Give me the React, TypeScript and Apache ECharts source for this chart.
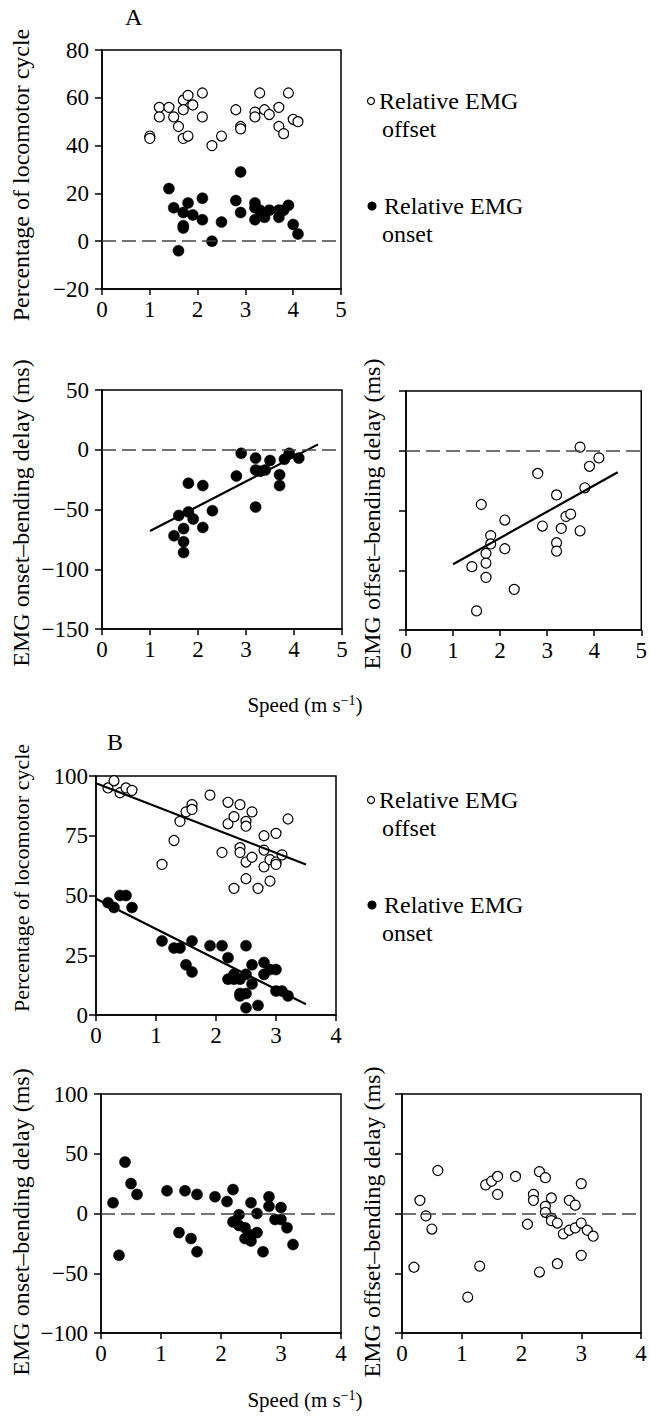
import React, { useEffect, useRef } from 'react';
import * as echarts from 'echarts';

const FONT = '"Liberation Serif", "Times New Roman", serif';

// ---------- Data ----------
// Panel A, top: percentage of locomotor cycle
const aOffsetPct: [number, number][] = [
  [1.0, 44], [1.0, 43], [1.2, 56], [1.2, 52], [1.4, 56], [1.5, 52], [1.6, 48], [1.7, 59], [1.7, 55], [1.7, 43],
  [1.8, 61], [1.8, 44], [1.9, 57], [2.1, 62], [2.1, 52], [2.3, 40], [2.5, 44], [2.8, 55], [2.9, 48], [2.9, 47],
  [3.2, 54], [3.2, 52], [3.3, 62], [3.4, 55], [3.5, 53], [3.7, 56], [3.7, 48], [3.8, 45], [3.9, 62], [4.0, 51], [4.1, 50],
];
const aOnsetPct: [number, number][] = [
  [1.4, 22], [1.5, 14], [1.6, -4], [1.7, 12], [1.7, 6.5], [1.7, 5.5], [1.8, 16], [1.9, 11], [2.1, 18], [2.1, 9],
  [2.3, 0], [2.5, 8], [2.8, 17], [2.9, 29], [2.9, 12], [3.2, 16], [3.2, 14], [3.2, 9], [3.3, 13], [3.4, 10],
  [3.5, 13], [3.7, 13], [3.7, 10], [3.8, 13], [3.9, 15], [4.0, 7], [4.1, 3],
];
// Panel A, middle: delays (ms)
const aOnsetDelay: [number, number][] = [
  [1.5, -72], [1.6, -55], [1.7, -66], [1.7, -77], [1.7, -86], [1.8, -28], [1.8, -52], [1.9, -58], [2.1, -30], [2.1, -65],
  [2.3, -51], [2.8, -22], [2.9, -3], [3.2, -7], [3.2, -17], [3.2, -48], [3.3, -18], [3.4, -17], [3.5, -9], [3.7, -21],
  [3.7, -30], [3.8, -8], [3.9, -3], [4.1, -7],
];
const aOnsetFit: [number, number][] = [[1, -68], [4.5, 4.5]];
const aOffsetDelay: [number, number][] = [
  [1.4, -97], [1.5, -134], [1.6, -45], [1.7, -86], [1.7, -94], [1.7, -106], [1.8, -71], [1.8, -78], [2.1, -58], [2.1, -82],
  [2.3, -116], [2.8, -19], [2.9, -63], [3.2, -37], [3.2, -77], [3.2, -84], [3.3, -65], [3.4, -55], [3.5, -53], [3.7, -67],
  [3.7, 3], [3.8, -31], [3.9, -13], [4.1, -6],
];
const aOffsetFit: [number, number][] = [[1, -95], [4.5, -18]];

// Panel B, top: percentage of locomotor cycle
const bOffsetPct: [number, number][] = [
  [0.2, 95], [0.3, 98], [0.4, 93], [0.5, 95], [0.6, 94], [1.1, 63], [1.3, 73], [1.4, 81], [1.5, 85], [1.6, 88],
  [1.6, 86], [1.9, 92], [2.1, 68], [2.2, 89], [2.2, 80], [2.3, 83], [2.3, 53], [2.4, 88], [2.4, 70], [2.4, 68],
  [2.5, 81], [2.5, 79], [2.5, 64], [2.5, 57], [2.6, 85], [2.6, 66], [2.7, 53], [2.8, 75], [2.8, 69], [2.8, 62],
  [2.9, 65], [2.9, 56], [3.0, 76], [3.0, 64], [3.0, 63], [3.1, 67], [3.2, 82],
];
const bOffsetFit: [number, number][] = [[0, 97], [3.5, 63]];
const bOnsetPct: [number, number][] = [
  [0.2, 47], [0.3, 45], [0.4, 50], [0.5, 50], [0.6, 45], [1.1, 31], [1.3, 28], [1.4, 28], [1.5, 21], [1.6, 31],
  [1.6, 18], [1.9, 29], [2.1, 29], [2.2, 24], [2.2, 15], [2.3, 17], [2.3, 15], [2.4, 15], [2.4, 9], [2.4, 8],
  [2.5, 29], [2.5, 17], [2.5, 9], [2.5, 3], [2.6, 21], [2.6, 13], [2.7, 4], [2.8, 22], [2.8, 17], [2.9, 19],
  [3.0, 19], [3.0, 10], [3.1, 10], [3.2, 8],
];
const bOnsetFit: [number, number][] = [[0, 48.6], [3.5, 4.5]];
// Panel B, bottom: delays (ms)
const bOnsetDelay: [number, number][] = [
  [0.2, 9], [0.3, -35], [0.4, 43], [0.5, 25], [0.6, 16], [1.1, 19], [1.3, -16], [1.4, 19], [1.5, -21], [1.6, 16],
  [1.6, -32], [1.9, 14], [2.1, 10], [2.2, 20], [2.2, -7], [2.3, -1], [2.3, -10], [2.4, -12], [2.4, -21], [2.5, 9],
  [2.5, -18], [2.5, -23], [2.6, 0], [2.6, -16], [2.7, -32], [2.8, 14], [2.8, 6], [2.9, -5], [3.0, 5], [3.0, -5],
  [3.1, -12], [3.2, -26],
];
const bOffsetDelay: [number, number][] = [
  [0.2, -45], [0.3, 11], [0.4, -2], [0.5, -13], [0.6, 36], [1.1, -70], [1.3, -44], [1.4, 24], [1.5, 27], [1.6, 31],
  [1.6, 16], [1.9, 31], [2.1, -9], [2.2, 16], [2.2, 11], [2.3, 35], [2.3, -49], [2.4, 30], [2.4, 6], [2.4, 1],
  [2.5, 13], [2.5, -4], [2.5, -6], [2.6, -8], [2.6, -42], [2.7, -17], [2.8, 11], [2.8, -14], [2.9, 7], [2.9, -12],
  [3.0, 25], [3.0, -8], [3.0, -35], [3.1, -14], [3.2, -19],
];

// Axis ranges [min, max, interval]
const speedRangeA = [0, 5, 1];
const speedRangeB = [0, 4, 1];
const pctRangeA = [-20, 80, 20];
const delayRangeA = [-150, 50, 50];
const pctRangeB = [0, 100, 25];
const delayRangeB = [-100, 100, 50];

// Texts
const pctTitle = 'Percentage of locomotor cycle';
const onsetDelayTitle = 'EMG onset–bending delay (ms)';
const offsetDelayTitle = 'EMG offset–bending delay (ms)';
const legendOffset = ['Relative EMG', 'offset'];
const legendOnset = ['Relative EMG', 'onset'];

// ---------- Layout ----------
const grids = [
  { left: 102, top: 50, width: 239, height: 239 },
  { left: 102, top: 390, width: 240, height: 239 },
  { left: 406, top: 391, width: 239, height: 239 },
  { left: 96, top: 776, width: 240, height: 239 },
  { left: 101, top: 1094, width: 240, height: 239 },
  { left: 402, top: 1094, width: 239, height: 239 },
];

const TICK_FS = 23;
const TITLE_FS = 24;
const LEGEND_FS = 24;

const fmt = (v: number) => (v < 0 ? '\u2212' + Math.abs(v) : String(v));

function xAxisFor(gi: number, r: number[]) {
  return {
    type: 'value', gridIndex: gi, min: r[0], max: r[1], interval: r[2],
    axisLine: { onZero: false, lineStyle: { color: '#000', width: 1.5 } },
    axisTick: { show: true, inside: false, length: 6, lineStyle: { color: '#000', width: 1.5 } },
    axisLabel: { show: true, color: '#000', fontFamily: FONT, fontSize: TICK_FS, margin: 9, formatter: fmt },
    splitLine: { show: false },
  };
}
function yAxisFor(gi: number, r: number[], showLabel: boolean, margin: number) {
  return {
    type: 'value', gridIndex: gi, min: r[0], max: r[1], interval: r[2],
    axisLine: { onZero: false, lineStyle: { color: '#000', width: 1.5 } },
    axisTick: { show: true, inside: false, length: 7, lineStyle: { color: '#000', width: 1.5 } },
    axisLabel: { show: showLabel, color: '#000', fontFamily: FONT, fontSize: TICK_FS, margin, formatter: fmt },
    splitLine: { show: false },
  };
}

const zeroLine = {
  silent: true,
  symbol: ['none', 'none'],
  label: { show: false },
  lineStyle: { color: '#444', type: [14, 6], width: 1.5, opacity: 1 },
  data: [{ yAxis: 0 }],
};

function openSeries(gi: number, data: [number, number][], withZero: boolean) {
  const s: any = {
    type: 'scatter', xAxisIndex: gi, yAxisIndex: gi, data, symbol: 'circle', symbolSize: 10,
    itemStyle: { color: '#fff', borderColor: '#000', borderWidth: 1.2, opacity: 1 }, z: 3,
  };
  if (withZero) s.markLine = zeroLine;
  return s;
}
function filledSeries(gi: number, data: [number, number][], withZero: boolean) {
  const s: any = {
    type: 'scatter', xAxisIndex: gi, yAxisIndex: gi, data, symbol: 'circle', symbolSize: 11,
    itemStyle: { color: '#000', borderColor: '#000', borderWidth: 0.5, opacity: 1 }, z: 3,
  };
  if (withZero) s.markLine = zeroLine;
  return s;
}
function fitSeries(gi: number, data: [number, number][]) {
  return {
    type: 'line', xAxisIndex: gi, yAxisIndex: gi, data, symbol: 'none',
    lineStyle: { color: '#000', width: 2.2 }, z: 4,
  };
}

function vTitle(text: string, x: number, y: number, size = TITLE_FS) {
  return {
    type: 'text', x, y, rotation: Math.PI / 2,
    style: { text, fontFamily: FONT, fontSize: size, fill: '#000', textAlign: 'center', textVerticalAlign: 'middle' },
  };
}
function hText(text: string, x: number, y: number, size = LEGEND_FS) {
  return {
    type: 'text', x, y,
    style: { text, fontFamily: FONT, fontSize: size, fill: '#000', textAlign: 'left', textVerticalAlign: 'middle' },
  };
}
function speedLabel(x: number, y: number) {
  return {
    type: 'text', x, y,
    style: {
      text: '{a|Speed (m s}{b|\u22121}{a|)}',
      rich: {
        a: { fontFamily: FONT, fontSize: 21, fill: '#000' },
        b: { fontFamily: FONT, fontSize: 14, fill: '#000', padding: [0, 0, 10, 0] },
      },
      textAlign: 'center', textVerticalAlign: 'middle',
    },
  };
}
function legendBlock(top: number) {
  // top = y of the first ("offset") line
  return [
    { type: 'circle', shape: { cx: 371, cy: top, r: 3.5 }, style: { fill: '#fff', stroke: '#000', lineWidth: 1.2 } },
    hText(legendOffset[0], 379, top),
    hText(legendOffset[1], 382, top + 28),
    { type: 'circle', shape: { cx: 372, cy: top + 105, r: 4.5 }, style: { fill: '#000' } },
    hText(legendOnset[0], 384, top + 105),
    hText(legendOnset[1], 382, top + 133),
  ];
}

const option: any = {
  animation: false,
  backgroundColor: '#fff',
  textStyle: { fontFamily: FONT },
  grid: grids.map((g) => ({ ...g, show: true, borderColor: '#000', borderWidth: 1.5, backgroundColor: 'transparent', containLabel: false })),
  xAxis: [
    xAxisFor(0, speedRangeA), xAxisFor(1, speedRangeA), xAxisFor(2, speedRangeA),
    xAxisFor(3, speedRangeB), xAxisFor(4, speedRangeB), xAxisFor(5, speedRangeB),
  ],
  yAxis: [
    yAxisFor(0, pctRangeA, true, 13), yAxisFor(1, delayRangeA, true, 13), yAxisFor(2, delayRangeA, false, 13),
    yAxisFor(3, pctRangeB, true, 8), yAxisFor(4, delayRangeB, true, 13), yAxisFor(5, delayRangeB, false, 13),
  ],
  series: [
    openSeries(0, aOffsetPct, true),
    filledSeries(0, aOnsetPct, false),
    filledSeries(1, aOnsetDelay, true),
    fitSeries(1, aOnsetFit),
    openSeries(2, aOffsetDelay, true),
    fitSeries(2, aOffsetFit),
    openSeries(3, bOffsetPct, false),
    fitSeries(3, bOffsetFit),
    filledSeries(3, bOnsetPct, false),
    fitSeries(3, bOnsetFit),
    filledSeries(4, bOnsetDelay, true),
    openSeries(5, bOffsetDelay, true),
  ],
  graphic: [
    hText('A', 125, 17),
    hText('B', 107, 742),
    vTitle(pctTitle, 21, 175),
    vTitle(onsetDelayTitle, 21, 513),
    vTitle(offsetDelayTitle, 372, 514),
    vTitle(pctTitle, 21, 878, 22),
    vTitle(onsetDelayTitle, 21, 1222),
    vTitle(offsetDelayTitle, 372, 1222),
    speedLabel(305, 705),
    speedLabel(305, 1400),
    ...legendBlock(101),
    ...legendBlock(800),
  ],
};

export default function App() {
  const ref = useRef<HTMLDivElement>(null);
  useEffect(() => {
    if (!ref.current) return;
    const chart = echarts.init(ref.current, null, { renderer: 'svg' });
    chart.setOption(option);
    return () => chart.dispose();
  }, []);
  return (
    <div
      ref={ref}
      style={{ position: 'absolute', left: 0, top: 0, width: 650, height: 1423, background: '#fff' }}
    />
  );
}
